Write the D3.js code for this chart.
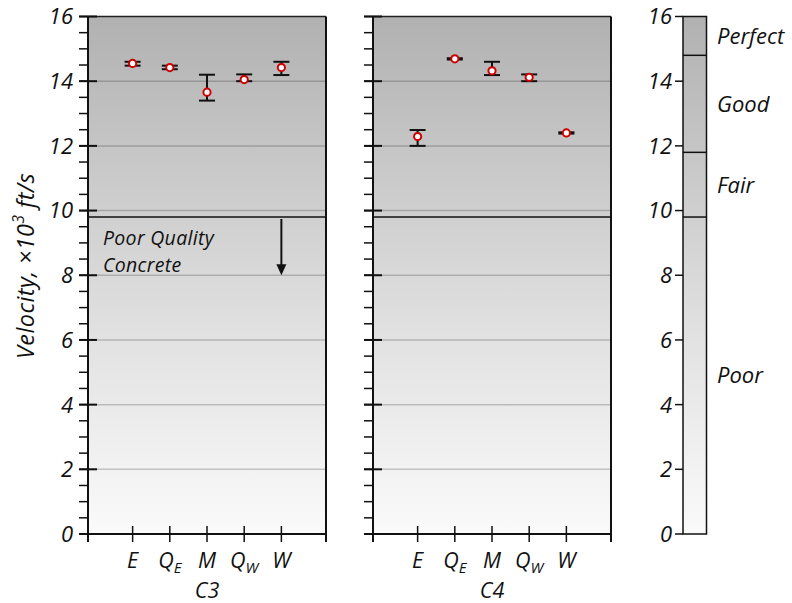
<!DOCTYPE html>
<html><head><meta charset="utf-8">
<script src="https://cdn.jsdelivr.net/npm/d3@7"></script>
<style>
html,body{margin:0;padding:0;background:#fff;}
text{font-family:"Open Sans",Lato,sans-serif;font-style:italic;fill:#111;}
</style></head>
<body><svg id="chart" width="792" height="603"></svg>
<script>
// ---- data ----
const categories = ["E", "QE", "M", "QW", "W"];
const categoryMain = ["E", "Q", "M", "Q", "W"];
const categorySub = ["", "E", "", "W", ""];
const panelNames = ["C3", "C4"];
const c3Mean = [14.55, 14.42, 13.66, 14.05, 14.42];
const c3Low  = [14.48, 14.37, 13.40, 14.00, 14.19];
const c3High = [14.60, 14.48, 14.20, 14.21, 14.60];
const c4Mean = [12.29, 14.69, 14.32, 14.12, 12.40];
const c4Low  = [12.00, 14.67, 14.19, 14.00, 12.38];
const c4High = [12.49, 14.71, 14.60, 14.21, 12.42];
const yMajorTicks = [0, 2, 4, 6, 8, 10, 12, 14, 16];
const yMinorTicks = d3.range(0, 16.01, 0.5);
const gridValues = [2, 4, 6, 8, 10, 12, 14];
const qualityBounds = [0, 9.8, 11.8, 14.8, 16];
const qualityLabels = ["Poor", "Fair", "Good", "Perfect"];
const poorThreshold = 9.8;
const annotationLines = ["Poor Quality", "Concrete"];

const panelsData = [
  {name: panelNames[0], mean: c3Mean, low: c3Low, high: c3High, x0: 88, labels: true},
  {name: panelNames[1], mean: c4Mean, low: c4Low, high: c4High, x0: 373, labels: false}
];

// ---- layout ----
const svg = d3.select("#chart");
const panelW = 238;
const y = d3.scaleLinear().domain([0, 16]).range([534, 16.5]);
const x = d3.scalePoint().domain(categories).range([0, panelW]).padding(1.2);

const defs = svg.append("defs");
const grad = defs.append("linearGradient").attr("id", "bg")
  .attr("gradientUnits", "userSpaceOnUse")
  .attr("x1", 0).attr("x2", 0).attr("y1", y(16)).attr("y2", y(0));
[[16, "#b1b1b1"], [10, "#cfcfcf"], [6, "#e2e2e2"], [2, "#f2f2f2"], [0, "#fafafa"]].forEach(([v, c]) =>
  grad.append("stop").attr("offset", (16 - v) / 16).attr("stop-color", c));

panelsData.forEach(p => {
  const g = svg.append("g").attr("transform", `translate(${p.x0},0)`);
  g.append("rect").attr("x", 0).attr("y", y(16)).attr("width", panelW)
    .attr("height", y(0) - y(16)).attr("fill", "url(#bg)");
  // gridlines
  g.selectAll(".grid").data(gridValues).join("line")
    .attr("x1", 0).attr("x2", panelW).attr("y1", d => y(d)).attr("y2", d => y(d))
    .attr("stroke", "#000").attr("stroke-opacity", 0.2).attr("stroke-width", 1.5);
  // threshold
  g.append("line").attr("x1", 0).attr("x2", panelW)
    .attr("y1", y(poorThreshold)).attr("y2", y(poorThreshold))
    .attr("stroke", "#111").attr("stroke-width", 1.5);
  // frame
  g.append("line").attr("x1", 0).attr("x2", panelW).attr("y1", y(16)).attr("y2", y(16))
    .attr("stroke", "#222").attr("stroke-width", 1.5);
  g.append("line").attr("x1", 0).attr("x2", panelW).attr("y1", y(0)).attr("y2", y(0))
    .attr("stroke", "#111").attr("stroke-width", 2);
  [0, panelW].forEach(xx => g.append("line").attr("x1", xx).attr("x2", xx)
    .attr("y1", y(16)).attr("y2", y(0) + 8).attr("stroke", "#111").attr("stroke-width", 2));
  // y ticks
  g.selectAll(".minor").data(yMinorTicks).join("line")
    .attr("x1", -9).attr("x2", 0).attr("y1", d => y(d)).attr("y2", d => y(d))
    .attr("stroke", "#111").attr("stroke-width", 1.5);
  g.selectAll(".major").data(yMajorTicks).join("line")
    .attr("x1", -9).attr("x2", 9).attr("y1", d => y(d)).attr("y2", d => y(d))
    .attr("stroke", "#111").attr("stroke-width", 2);
  if (p.labels) {
    g.selectAll(".ylab").data(yMajorTicks).join("text")
      .attr("x", -15).attr("y", d => y(d)).attr("dy", "0.36em")
      .attr("text-anchor", "end").attr("font-size", 22).text(d => d);
  }
  // x ticks
  g.selectAll(".xt").data(categories).join("line")
    .attr("x1", d => x(d)).attr("x2", d => x(d)).attr("y1", y(0) - 8).attr("y2", y(0) + 8)
    .attr("stroke", "#111").attr("stroke-width", 1.5);
  const xl = g.selectAll(".xl").data(categories).join("text")
    .attr("x", d => x(d)).attr("y", 568).attr("text-anchor", "middle").attr("font-size", 21.5);
  xl.append("tspan").text((d, i) => categoryMain[i]);
  xl.append("tspan").attr("font-size", 15).attr("dy", 5).text((d, i) => categorySub[i]);
  g.append("text").attr("x", x("M")).attr("y", 598).attr("text-anchor", "middle")
    .attr("font-size", 21.5).text(p.name);
  // error bars
  const cap = 8;
  categories.forEach((c, i) => {
    const cx = x(c);
    g.append("line").attr("x1", cx).attr("x2", cx).attr("y1", y(p.high[i])).attr("y2", y(p.low[i]))
      .attr("stroke", "#111").attr("stroke-width", 2);
    [p.high[i], p.low[i]].forEach(v => g.append("line").attr("x1", cx - cap).attr("x2", cx + cap)
      .attr("y1", y(v)).attr("y2", y(v)).attr("stroke", "#111").attr("stroke-width", 2));
    g.append("circle").attr("cx", cx).attr("cy", y(p.mean[i])).attr("r", 3.6)
      .attr("fill", "#fff").attr("stroke", "#d00000").attr("stroke-width", 2);
  });
  if (p.labels) {
    annotationLines.forEach((s, i) => g.append("text").attr("x", 15).attr("y", 245 + i * 26.5)
      .attr("font-size", 19.5).attr("letter-spacing", 0.3).text(s));
    const ax = x("W");
    g.append("line").attr("x1", ax).attr("x2", ax).attr("y1", 219).attr("y2", y(8) - 10)
      .attr("stroke", "#111").attr("stroke-width", 2);
    g.append("path").attr("d", `M${ax - 5},${y(8) - 11} L${ax + 5},${y(8) - 11} L${ax},${y(8)} Z`)
      .attr("fill", "#111");
  }
});

// y-axis title
const yt = svg.append("text").attr("transform", "translate(34,266) rotate(-90)")
  .attr("text-anchor", "middle").attr("font-size", 23.5).attr("letter-spacing", 0.4);
yt.append("tspan").text("Velocity, \u00d710");
yt.append("tspan").attr("font-size", 15.5).attr("dy", -10).text("3");
yt.append("tspan").attr("dy", 10).text(" ft/s");

// colorbar
const cbX = 683, cbW = 23.5;
const cb = svg.append("g");
cb.append("rect").attr("x", cbX).attr("y", y(16)).attr("width", cbW).attr("height", y(0) - y(16))
  .attr("fill", "url(#bg)").attr("stroke", "#111").attr("stroke-width", 1.5);
cb.selectAll(".b").data(qualityBounds.slice(1, -1)).join("line")
  .attr("x1", cbX).attr("x2", cbX + cbW).attr("y1", d => y(d)).attr("y2", d => y(d))
  .attr("stroke", "#111").attr("stroke-width", 1.5);
cb.selectAll(".t").data(yMajorTicks).join("line")
  .attr("x1", cbX - 8).attr("x2", cbX).attr("y1", d => y(d)).attr("y2", d => y(d))
  .attr("stroke", "#111").attr("stroke-width", 1.5);
cb.selectAll(".tl").data(yMajorTicks).join("text")
  .attr("x", cbX - 11).attr("y", d => y(d)).attr("dy", "0.36em").attr("text-anchor", "end")
  .attr("font-size", 22).text(d => d);
cb.selectAll(".ql").data(qualityLabels).join("text")
  .attr("x", 717).attr("y", (d, i) => y((qualityBounds[i] + qualityBounds[i + 1]) / 2))
  .attr("dy", "0.36em").attr("font-size", 22).text(d => d);
</script></body></html>
